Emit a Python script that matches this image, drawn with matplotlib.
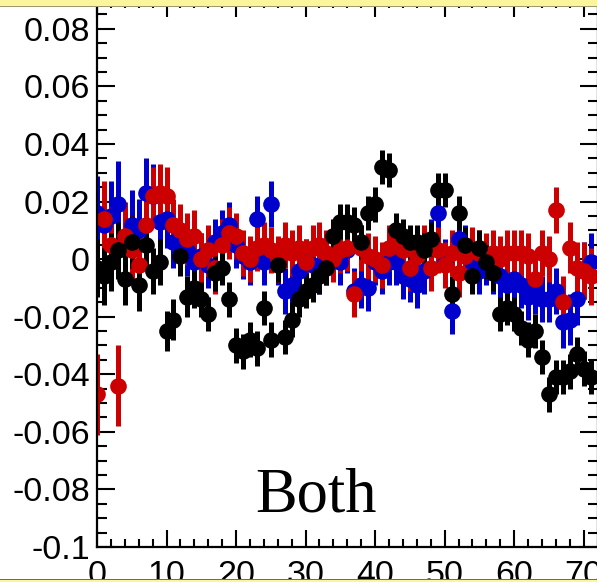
import matplotlib
matplotlib.use("Agg")
import matplotlib.pyplot as plt
from matplotlib.patches import Rectangle
from matplotlib.ticker import MultipleLocator

# ---- data ----
x_bins = list(range(72))

blue_vals = [0.016, 0.012, 0.015, 0.019, 0.006, 0.012, 0.010, 0.023, 0.022, 0.013,
             0.014, 0.006, 0.005, 0.003, -0.001, 0.001, -0.002, 0.006, 0.009, 0.012,
             0.005, 0.001, -0.001, 0.014, -0.001, 0.019, -0.001, -0.011, -0.009, -0.004,
             -0.001, -0.002, -0.004, -0.001, 0.001, -0.001, 0.003, -0.011, -0.009, -0.010,
             -0.001, -0.004, -0.001, -0.001, -0.006, -0.007, -0.009, -0.004, 0.006, 0.016,
             -0.001, -0.018, 0.007, 0.004, -0.001, -0.004, -0.001, -0.004, -0.006, -0.009,
             -0.007, -0.009, -0.013, -0.011, -0.014, -0.014, -0.011, -0.022, -0.021, -0.014,
             -0.004, -0.001]
blue_errs = [0.013, 0.013, 0.012, 0.015, 0.012, 0.012, 0.011, 0.012, 0.011, 0.010,
             0.010, 0.009, 0.009, 0.009, 0.009, 0.008, 0.008, 0.008, 0.008, 0.008,
             0.008, 0.008, 0.008, 0.008, 0.008, 0.008, 0.008, 0.008, 0.008, 0.008,
             0.008, 0.008, 0.008, 0.008, 0.008, 0.008, 0.008, 0.008, 0.008, 0.008,
             0.008, 0.008, 0.008, 0.008, 0.008, 0.008, 0.008, 0.008, 0.008, 0.008,
             0.008, 0.008, 0.008, 0.008, 0.008, 0.008, 0.008, 0.008, 0.008, 0.008,
             0.008, 0.008, 0.008, 0.008, 0.008, 0.008, 0.008, 0.009, 0.009, 0.009,
             0.010, 0.010]

red_vals = [-0.047, 0.014, 0.005, -0.044, 0.008, 0.003, -0.002, 0.012, 0.022, 0.023,
            0.022, 0.012, 0.010, 0.007, 0.008, 0.000, 0.003, -0.003, 0.005, 0.009,
            0.008, 0.002, 0.000, 0.004, 0.005, 0.003, 0.000, 0.005, 0.002, 0.004,
            -0.001, 0.004, 0.005, 0.002, 0.000, 0.003, 0.004, -0.012, 0.004, 0.001,
            0.000, -0.002, 0.004, 0.006, 0.003, -0.003, 0.001, 0.004, -0.003, 0.003,
            -0.002, 0.002, -0.005, 0.001, 0.003, 0.002, 0.001, 0.002, 0.000, 0.002,
            0.002, 0.002, 0.001, -0.007, 0.002, 0.000, 0.017, -0.015, 0.004, -0.003,
            -0.004, -0.006]
red_errs = [0.014, 0.013, 0.013, 0.014, 0.012, 0.012, 0.011, 0.011, 0.010, 0.010,
            0.010, 0.009, 0.009, 0.009, 0.009, 0.009, 0.009, 0.009, 0.009, 0.009,
            0.008, 0.008, 0.008, 0.008, 0.008, 0.008, 0.008, 0.008, 0.008, 0.008,
            0.008, 0.008, 0.008, 0.008, 0.008, 0.008, 0.008, 0.008, 0.008, 0.008,
            0.008, 0.008, 0.008, 0.008, 0.008, 0.008, 0.008, 0.008, 0.008, 0.008,
            0.008, 0.008, 0.008, 0.008, 0.008, 0.008, 0.008, 0.008, 0.008, 0.008,
            0.008, 0.008, 0.008, 0.008, 0.008, 0.008, 0.008, 0.009, 0.009, 0.009,
            0.010, 0.010]

black_vals = [-0.003, -0.006, -0.001, 0.003, -0.007, 0.006, -0.009, 0.005, -0.004, -0.001,
              -0.025, -0.021, 0.001, -0.013, -0.010, -0.014, -0.019, -0.005, -0.003, -0.014,
              -0.030, -0.032, -0.028, -0.031, -0.017, -0.028, -0.002, -0.027, -0.021, -0.014,
              -0.011, -0.009, -0.006, -0.003, 0.008, 0.013, 0.013, 0.012, 0.006, 0.016,
              0.019, 0.032, 0.031, 0.010, 0.008, 0.006, 0.006, 0.003, 0.007, 0.024,
              0.024, -0.012, 0.016, 0.005, -0.006, 0.004, -0.001, -0.005, -0.019, -0.017,
              -0.019, -0.024, -0.028, -0.025, -0.034, -0.047, -0.041, -0.041, -0.039, -0.033,
              -0.038, -0.041]
black_errs = [0.010, 0.010, 0.010, 0.010, 0.009, 0.009, 0.009, 0.008, 0.008, 0.008,
              0.007, 0.007, 0.007, 0.007, 0.007, 0.006, 0.006, 0.006, 0.006, 0.006,
              0.006, 0.006, 0.006, 0.006, 0.006, 0.006, 0.006, 0.006, 0.006, 0.006,
              0.006, 0.006, 0.006, 0.006, 0.006, 0.006, 0.006, 0.006, 0.006, 0.006,
              0.006, 0.006, 0.006, 0.006, 0.006, 0.006, 0.006, 0.006, 0.006, 0.006,
              0.006, 0.006, 0.006, 0.006, 0.006, 0.006, 0.006, 0.006, 0.006, 0.006,
              0.006, 0.006, 0.006, 0.006, 0.006, 0.006, 0.006, 0.006, 0.006, 0.006,
              0.006, 0.006]

x_ticks = [0, 10, 20, 30, 40, 50, 60, 70]
y_ticks = [-0.1, -0.08, -0.06, -0.04, -0.02, 0, 0.02, 0.04, 0.06, 0.08]
y_tick_labels = ["-0.1", "-0.08", "-0.06", "-0.04", "-0.02", "0", "0.02", "0.04", "0.06", "0.08"]
label_text = "Both"

# ---- figure ----
W, H = 597, 582
fig = plt.figure(figsize=(W / 100, H / 100), dpi=100)
fig.patch.set_facecolor("white")

left = 97 / W
bottom = (H - 547) / H
ax = fig.add_axes([left, bottom, 1.0 - left + 0.001, 1.0 - bottom])

series = [
    (blue_vals, blue_errs, "#0000cc"),
    (red_vals, red_errs, "#cc0000"),
    (black_vals, black_errs, "#000000"),
]
for vals, errs, col in series:
    ax.errorbar(x_bins, vals, yerr=errs, fmt="o", color=col, ms=12,
                mew=0, elinewidth=3.6, capsize=0, clip_on=True)

ax.set_xlim(0, 72)
ax.set_ylim(-0.1, 0.09)

ax.set_xticks(x_ticks)
ax.set_xticklabels([str(t) for t in x_ticks])
ax.set_yticks(y_ticks)
ax.set_yticklabels(y_tick_labels)
ax.xaxis.set_minor_locator(MultipleLocator(2))
ax.yaxis.set_minor_locator(MultipleLocator(0.005))

for sp in ax.spines.values():
    sp.set_linewidth(1.6)

ax.tick_params(axis="both", which="both", direction="in", top=True, right=True,
               width=1.5, colors="black")
ax.tick_params(axis="y", which="major", length=13, pad=5, labelsize=24.5)
ax.tick_params(axis="y", which="minor", length=7)
ax.tick_params(axis="x", which="major", length=12, pad=9, labelsize=24.5)
ax.tick_params(axis="x", which="minor", length=6)
for lab in ax.get_xticklabels() + ax.get_yticklabels():
    lab.set_fontfamily("Liberation Sans")

ax.text(22.8, -0.0875, label_text, fontsize=45, family="Liberation Serif",
        ha="left", va="baseline")

# yellow canvas border strips (top and bottom)
fig.patches.append(Rectangle((0, 1 - 6 / H), 1, 6 / H, transform=fig.transFigure,
                             facecolor="#fbf59c", edgecolor="none", zorder=10))
fig.patches.append(Rectangle((0, 1 - 7 / H), 1, 1.2 / H, transform=fig.transFigure,
                             facecolor="#9a9a70", edgecolor="none", zorder=10))
fig.patches.append(Rectangle((0, 0), 1, 2.5 / H, transform=fig.transFigure,
                             facecolor="#fbf59c", edgecolor="none", zorder=10))
fig.patches.append(Rectangle((0, 2.5 / H), 1, 1.0 / H, transform=fig.transFigure,
                             facecolor="#6f6f50", edgecolor="none", zorder=10))

fig.savefig("out.png", dpi=100)
